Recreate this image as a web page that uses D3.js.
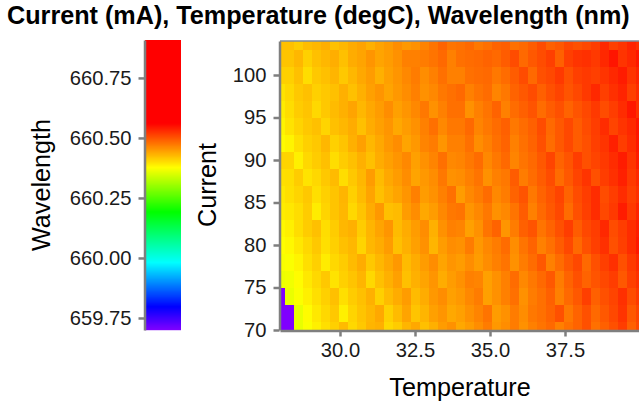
<!DOCTYPE html>
<html lang="en">
<head>
    <meta charset="UTF-8">
    <title>Current, Temperature, Wavelength</title>
    <script src="https://d3js.org/d3.v7.min.js"></script>
    <style>
        html, body { margin: 0; background: #fff; }
        svg { display: block; }
        text { font-family: "Liberation Sans", Arial, sans-serif; fill: #000; }
        .title { font-size: 25.2px; font-weight: bold; }
        .axis-title { font-size: 25.2px; }
        .axis text { font-size: 20.2px; fill: #1a1a1a; }
        .axis path, .axis line { stroke: #7f7f7f; stroke-width: 2.5px; }
    </style>
</head>
<body>
<svg width="639" height="403"></svg>

<script>
    // tick labels
    const wavelengthTicks = [659.75, 660.00, 660.25, 660.50, 660.75];
    const currentTicks = [70, 75, 80, 85, 90, 95, 100];
    const temperatureTicks = [30.0, 32.5, 35.0, 37.5];

    // grid of the sweep
    const temperatures = [28.0, 28.3, 28.6, 28.9, 29.2, 29.5, 29.8, 30.1, 30.4, 30.7, 31.0, 31.3, 31.6, 31.9,
        32.2, 32.5, 32.8, 33.1, 33.4, 33.7, 34.0, 34.3, 34.6, 34.9, 35.2, 35.5, 35.8, 36.1, 36.4, 36.7,
        37.0, 37.3, 37.6, 37.9, 38.2, 38.5, 38.8, 39.1, 39.4, 39.7, 40.0];
    const currents = [104, 102, 100, 98, 96, 94, 92, 90, 88, 86, 84, 82, 80, 78, 76, 74, 72, 70];

    // wavelength in pm above 660 nm, one row per current
    const wavelengthPm = [
        [421,421,413,423,427,434,420,427,436,442,432,442,448,458,450,455,465,476,488,476,479,484,473,479,488,492,479,484,493,505,490,496,508,502,508,516,531,514,522,534,525],
        [418,418,427,409,421,427,434,421,435,441,452,441,447,455,467,467,470,476,484,467,479,482,484,488,484,493,505,484,496,505,514,490,514,522,525,519,531,545,522,531,543],
        [409,409,421,400,415,421,429,415,427,438,447,432,444,452,461,470,458,467,479,467,467,479,482,484,473,482,493,505,484,502,508,519,502,514,519,514,522,531,540,522,534],
        [395,403,415,421,409,415,421,432,421,432,444,452,441,450,458,467,455,461,473,479,484,467,476,482,464,473,488,496,505,490,502,511,499,508,519,531,514,525,534,514,528],
        [389,400,412,418,403,415,424,432,441,427,438,447,458,444,452,461,473,455,467,479,479,455,467,476,488,467,482,490,499,482,493,502,488,499,508,519,505,516,528,543,525],
        [383,395,406,415,421,406,421,427,435,421,435,444,452,438,447,455,467,479,461,473,473,484,464,473,482,490,473,482,490,505,484,496,508,493,505,516,528,511,522,531,545],
        [378,383,398,409,415,427,409,418,432,444,427,438,450,458,441,450,464,470,452,467,467,479,458,467,479,488,467,479,488,502,482,496,508,493,502,514,522,537,516,528,543],
        [406,406,386,403,412,421,400,412,421,432,421,435,444,452,461,444,455,464,479,461,464,473,482,461,473,484,464,476,484,496,511,488,499,516,502,511,519,528,540,522,540],
        [398,400,412,395,403,415,424,400,415,427,447,424,438,447,458,441,450,458,473,455,458,467,476,455,467,473,493,470,482,493,505,482,496,511,522,502,516,525,537,519,531],
        [392,398,406,415,398,409,418,429,409,424,441,421,432,441,452,467,447,455,467,479,447,461,470,482,461,470,488,499,473,488,499,511,488,505,516,528,505,516,528,514,525],
        [389,392,400,412,389,406,418,427,403,418,435,450,421,424,447,458,438,447,461,473,476,452,461,473,455,461,476,493,467,484,496,508,482,502,514,528,508,519,540,519,534],
        [380,386,400,412,421,400,412,427,432,412,429,441,452,424,435,447,458,432,455,467,464,444,455,476,488,452,470,490,499,476,488,502,516,493,508,516,531,505,516,528,540],
        [376,380,392,403,415,398,409,421,427,406,427,435,447,421,432,444,455,429,447,458,455,470,450,461,470,482,458,476,488,467,479,493,508,484,502,514,525,502,514,528,543],
        [370,372,383,398,409,389,403,412,424,435,415,427,438,450,424,435,447,458,441,452,447,458,447,458,467,476,455,470,482,496,467,482,496,508,484,502,514,525,502,519,531],
        [362,365,377,392,403,415,395,409,418,429,403,421,432,444,421,432,441,452,435,447,455,467,464,444,455,467,482,461,473,484,496,470,488,502,488,499,508,516,496,514,525],
        [-300,360,372,386,398,409,421,398,412,421,432,409,424,435,447,424,435,450,458,444,450,461,470,444,455,467,479,455,470,479,490,467,484,496,514,490,502,511,525,505,519],
        [-300,-300,358,377,392,403,415,386,406,418,427,438,409,424,441,418,429,444,452,438,444,455,464,476,447,455,470,458,473,479,488,502,473,488,502,484,496,508,522,496,511],
        [-300,-300,358,373,386,398,409,424,403,415,429,432,403,412,429,438,421,432,447,455,438,447,458,470,450,458,470,455,467,476,484,467,479,488,502,479,490,502,516,490,508]
    ];

    const width = 639;

    const svg = d3.select("svg");

    const wavelengthAt = pm => 660 + pm / 1000;

    // rainbow legend, flat red above the top of the data
    const fill = d3.scaleLinear()
        .domain([659.70, 659.795, 659.98, 660.19, 660.375, 660.56, 660.908])
        .range(["#7f00ff", "#0000ff", "#00ffff", "#00ff00", "#ffff00", "#ff0000", "#ff0000"])
        .interpolate(d3.interpolateRgb);

    const x = d3.scaleLinear().domain([28, 40]).range([280, 640]);
    const y = d3.scaleLinear().domain([70, 104]).range([330, 41]);
    const legendY = d3.scaleLinear().domain([659.70, 660.908]).range([330, 40]);

    svg.append("text")
        .attr("class", "title")
        .attr("x", 7)
        .attr("y", 24)
        .text("Current (mA), Temperature (degC), Wavelength (nm)");

    // colour bar
    const legendSteps = d3.range(0, 290).map(i => legendY.invert(330 - i));
    svg.append("g")
        .selectAll("rect")
        .data(legendSteps)
        .enter().append("rect")
        .attr("x", 145)
        .attr("width", 36)
        .attr("y", d => legendY(d) - 1)
        .attr("height", 1.2)
        .attr("fill", d => fill(d));

    svg.append("g")
        .attr("class", "axis")
        .attr("transform", "translate(144.5,0)")
        .call(d3.axisLeft(legendY).tickValues(wavelengthTicks).tickFormat(d3.format(".2f")).tickSize(6).tickSizeOuter(0).tickPadding(7));

    // heat map
    svg.append("clipPath")
        .attr("id", "plot-clip")
        .append("rect")
        .attr("x", x(28))
        .attr("y", y(104))
        .attr("width", x(40) - x(28))
        .attr("height", y(70) - y(104));

    const cells = currents.flatMap((c, i) => temperatures.map((t, j) => ({
        t: t, c: c, w: wavelengthAt(wavelengthPm[i][j])
    })));

    svg.append("g")
        .attr("clip-path", "url(#plot-clip)")
        .attr("shape-rendering", "crispEdges")
        .selectAll("rect")
        .data(cells)
        .enter().append("rect")
        .attr("x", d => x(d.t - 0.15))
        .attr("y", d => y(d.c + 1))
        .attr("width", x(0.3) - x(0) + 0.5)
        .attr("height", y(0) - y(2) + 0.5)
        .attr("fill", d => fill(d.w));

    // thin top rule of the plot panel
    svg.append("line")
        .attr("x1", x(28))
        .attr("x2", width)
        .attr("y1", y(104))
        .attr("y2", y(104))
        .attr("stroke", "#7f8c9a")
        .attr("stroke-width", 1.5);

    svg.append("g")
        .attr("class", "axis")
        .attr("transform", "translate(279.5,0)")
        .call(d3.axisLeft(y).tickValues(currentTicks).tickSize(6).tickSizeOuter(0).tickPadding(7));

    svg.append("g")
        .attr("class", "axis")
        .attr("transform", "translate(0,330.5)")
        .call(d3.axisBottom(x).tickValues(temperatureTicks).tickFormat(d3.format(".1f")).tickSize(6).tickSizeOuter(0).tickPadding(6));

    svg.append("text")
        .attr("class", "axis-title")
        .attr("text-anchor", "middle")
        .attr("transform", "translate(50,185) rotate(-90)")
        .text("Wavelength");

    svg.append("text")
        .attr("class", "axis-title")
        .attr("text-anchor", "middle")
        .attr("transform", "translate(216,185) rotate(-90)")
        .text("Current");

    svg.append("text")
        .attr("class", "axis-title")
        .attr("text-anchor", "middle")
        .attr("x", 460)
        .attr("y", 396)
        .text("Temperature");
</script>

</body>
</html>
